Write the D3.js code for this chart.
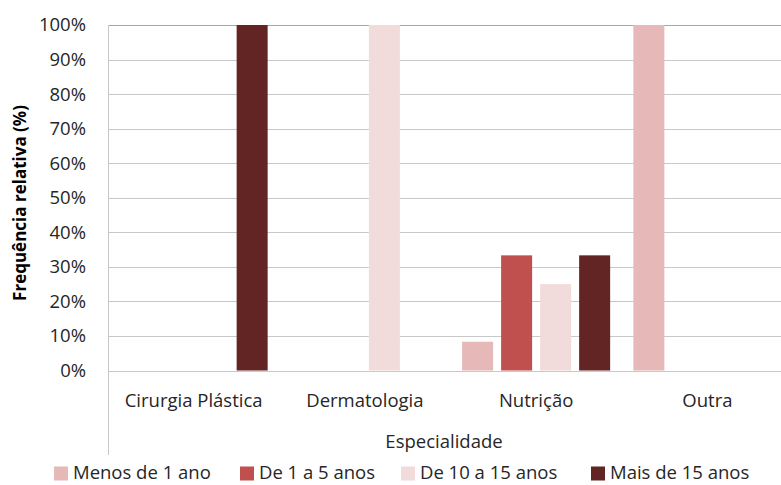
<!DOCTYPE html>
<html>
<head>
<meta charset="utf-8">
<script src="https://cdn.jsdelivr.net/npm/d3@7"></script>
<style>
  html, body { margin: 0; padding: 0; background: #fff; }
  svg { display: block; font-family: "Open Sans", "Noto Sans", sans-serif; }
</style>
</head>
<body>
<svg id="chart" width="781" height="485"></svg>
<script>
// Specialties on the x axis
const categories = ["Cirurgia Plástica", "Dermatologia", "Nutrição", "Outra"];
// Years-of-practice groups (one bar each per specialty)
const seriesNames = ["Menos de 1 ano", "De 1 a 5 anos", "De 10 a 15 anos", "Mais de 15 anos"];
const seriesColors = ["#E6B9B8", "#C0504D", "#F2DCDB", "#632523"];
// Relative frequency (%) per series, in category order
const menosDe1 = [0, 0, 8.33, 100];
const de1a5 = [0, 0, 33.33, 0];
const de10a15 = [0, 100, 25, 0];
const maisDe15 = [100, 0, 33.33, 0];
const seriesValues = [menosDe1, de1a5, de10a15, maisDe15];
const yTicks = [0, 10, 20, 30, 40, 50, 60, 70, 80, 90, 100];

const svg = d3.select("#chart");
const plot = { left: 108, top: 25, bottom: 370.5, right: 793 };
const fs = 18.5;

const x0 = d3.scaleBand().domain(categories).range([plot.left, plot.right]);
const groupPad = 11.6;
const x1 = d3.scaleBand().domain(seriesNames)
  .range([groupPad, x0.bandwidth() - groupPad])
  .paddingInner(8 / 39);
const y = d3.scaleLinear().domain([0, 100]).range([plot.bottom, plot.top]);

// horizontal gridlines
svg.append("g").selectAll("line").data(yTicks).join("line")
  .attr("x1", plot.left).attr("x2", 781)
  .attr("y1", d => Math.round(y(d)) + 0.5).attr("y2", d => Math.round(y(d)) + 0.5)
  .attr("stroke", d => d === 100 ? "#a6a6a6" : "#c8c8c8").attr("stroke-width", 1);

// left axis line, extended down through the category label area
svg.append("line")
  .attr("x1", plot.left + 0.5).attr("x2", plot.left + 0.5)
  .attr("y1", plot.top).attr("y2", 455)
  .attr("stroke", "#c8c8c8");

// y tick labels
const yAxis = d3.axisLeft(y).tickValues(yTicks).tickFormat(d => d + "%").tickSize(0).tickPadding(22);
const ya = svg.append("g").attr("transform", `translate(${plot.left},0)`).call(yAxis);
ya.select(".domain").remove();
ya.selectAll("text").attr("font-size", fs).attr("fill", "#262626")
  .attr("font-family", "'Open Sans', sans-serif");

// bars
const rows = [];
seriesValues.forEach((vals, si) => {
  vals.forEach((v, ci) => {
    if (v > 0) rows.push({ cat: categories[ci], s: seriesNames[si], v, color: seriesColors[si] });
  });
});
svg.append("g").selectAll("rect").data(rows).join("rect")
  .attr("x", d => x0(d.cat) + x1(d.s))
  .attr("width", x1.bandwidth())
  .attr("y", d => y(d.v))
  .attr("height", d => y(0) - y(d.v))
  .attr("fill", d => d.color);

// category labels
const xAxis = d3.axisBottom(x0).tickSize(0).tickPadding(23);
const xa = svg.append("g").attr("transform", `translate(0,${plot.bottom})`).call(xAxis);
xa.select(".domain").remove();
xa.selectAll("text").attr("font-size", fs).attr("fill", "#262626")
  .attr("font-family", "'Open Sans', sans-serif");

// axis titles
svg.append("text").attr("x", 444).attr("y", 448).attr("text-anchor", "middle")
  .attr("font-size", fs).attr("fill", "#262626").text("Especialidade");
svg.append("text")
  .attr("transform", "translate(26,203) rotate(-90)")
  .attr("text-anchor", "middle").attr("font-size", 17).attr("font-weight", "bold")
  .attr("fill", "#000").text("Frequência relativa (%)");

// legend
const legendX = [54, 240, 401, 591];
const lg = svg.append("g").selectAll("g").data(seriesNames).join("g")
  .attr("transform", (d, i) => `translate(${legendX[i]},0)`);
lg.append("rect").attr("x", 0).attr("y", 466.5).attr("width", 14).attr("height", 14)
  .attr("fill", (d, i) => seriesColors[i]);
lg.append("text").attr("x", 19).attr("y", 479).attr("font-size", fs)
  .attr("fill", "#262626").text(d => d);
</script>
</body>
</html>
